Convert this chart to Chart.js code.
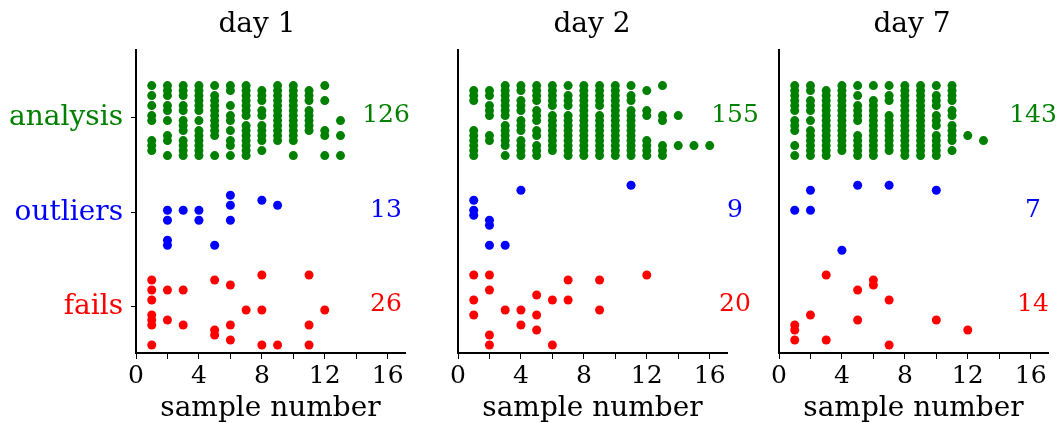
<!DOCTYPE html>
<html>
<head>
<meta charset="utf-8">
<script src="https://cdn.jsdelivr.net/npm/chart.js@4.4.1/dist/chart.umd.min.js"></script>
<style>
    body { margin: 0; background: #fff; }
    #wrap { position: relative; width: 1062px; height: 423px; }
    .panel { position: absolute; top: 0; }
</style>
</head>
<body>
<div id="wrap">
    <canvas id="day1" class="panel" width="420" height="423" style="left:0px"></canvas>
    <canvas id="day2" class="panel" width="340" height="423" style="left:420px"></canvas>
    <canvas id="day7" class="panel" width="302" height="423" style="left:760px"></canvas>
</div>
<script>
// bottom to top on the y axis
const categoryNames = ['fails', 'outliers', 'analysis'];
const categoryColors = ['#ff0000', '#0000ff', '#008000'];
const dayTitles = ['day 1', 'day 2', 'day 7'];

const xTickValues = [0, 2, 4, 6, 8, 10, 12, 14, 16];
const xLabelValues = [0, 4, 8, 12, 16];

// counts printed on the right: fails, outliers, analysis
const day1Counts = [26, 13, 126];
const day2Counts = [20, 9, 155];
const day7Counts = [14, 7, 143];

// each entry: [sample number, rows taken in the band (0 = top row, 14 = bottom row)]
const day1Analysis = [
    [1, [0, 2, 4, 6, 7, 11, 12, 13]],
    [2, [0, 1, 2, 4, 5, 7, 10, 11, 14]],
    [3, [0, 1, 2, 4, 5, 7, 8, 9, 11, 12, 13, 14]],
    [4, [0, 1, 2, 3, 4, 5, 7, 9, 10, 11, 12, 13, 14]],
    [5, [0, 2, 3, 4, 5, 6, 7, 8, 9, 10, 14]],
    [6, [0, 1, 4, 6, 7, 9, 11, 12, 14]],
    [7, [0, 1, 2, 3, 4, 5, 6, 8, 9, 10, 11, 12, 13, 14]],
    [8, [1, 2, 3, 5, 6, 8, 9, 10, 11, 13]],
    [9, [0, 1, 2, 3, 4, 5, 6, 7, 8, 9, 10, 11]],
    [10, [0, 1, 2, 3, 4, 5, 6, 7, 8, 9, 10, 11, 14]],
    [11, [1, 2, 3, 5, 6, 7, 8, 9]],
    [12, [0, 3, 9, 10, 14]],
    [13, [7, 10, 14]]
];
const day1Outliers = [
    [2, [6, 8, 12, 13]],
    [3, [6]],
    [4, [6, 8]],
    [5, [13]],
    [6, [3, 5, 8]],
    [8, [4]],
    [9, [5]]
];
const day1Fails = [
    [1, [1, 3, 5, 8, 9, 10, 14]],
    [2, [3, 9]],
    [3, [3, 10]],
    [5, [1, 11, 12]],
    [6, [2, 10, 13]],
    [7, [7]],
    [8, [0, 7, 14]],
    [9, [14]],
    [11, [0, 10, 14]],
    [12, [7]]
];

const day2Analysis = [
    [1, [1, 2, 3, 9, 10, 11, 12, 13, 14]],
    [2, [1, 2, 4, 5, 6, 10, 11]],
    [3, [0, 1, 2, 3, 4, 5, 6, 8, 9, 10, 11, 12, 14]],
    [4, [0, 1, 3, 4, 5, 7, 8, 9, 11, 12, 13, 14]],
    [5, [0, 1, 2, 3, 5, 6, 7, 9, 10, 12, 13, 14]],
    [6, [0, 1, 2, 3, 4, 6, 7, 8, 9, 10, 11, 12, 13]],
    [7, [0, 2, 3, 4, 6, 7, 8, 9, 10, 11, 12, 13, 14]],
    [8, [0, 1, 2, 3, 4, 5, 6, 7, 8, 9, 10, 11, 12, 13, 14]],
    [9, [0, 1, 2, 3, 4, 6, 7, 8, 9, 10, 11, 12, 13, 14]],
    [10, [0, 1, 2, 3, 4, 5, 6, 7, 8, 9, 10, 11, 12, 13, 14]],
    [11, [0, 2, 3, 5, 6, 7, 8, 9, 10, 11, 12, 13, 14]],
    [12, [1, 5, 6, 11, 12, 13, 14]],
    [13, [0, 6, 7, 12, 13, 14]],
    [14, [6, 12]],
    [15, [12]],
    [16, [12]]
];
const day2Outliers = [
    [1, [4, 6, 7]],
    [2, [8, 9, 13]],
    [3, [13]],
    [4, [2]],
    [11, [1]]
];
const day2Fails = [
    [1, [0, 5, 8]],
    [2, [0, 3, 12, 14]],
    [3, [7]],
    [4, [7, 10]],
    [5, [4, 8, 11]],
    [6, [5, 14]],
    [7, [1, 5]],
    [9, [1, 7]],
    [12, [0]]
];

const day7Analysis = [
    [1, [0, 1, 2, 3, 4, 5, 7, 8, 9, 12, 14]],
    [2, [0, 1, 3, 4, 5, 7, 9, 10, 11, 12, 13, 14]],
    [3, [1, 2, 3, 4, 5, 6, 7, 8, 9, 10, 11, 12, 13, 14]],
    [4, [0, 1, 2, 3, 4, 5, 6, 7, 8, 9, 10, 11, 12, 13]],
    [5, [0, 2, 4, 5, 6, 7, 10, 11, 12, 13, 14]],
    [6, [0, 3, 4, 5, 6, 7, 8, 9, 10, 11, 12, 13, 14]],
    [7, [0, 2, 3, 6, 7, 8, 9, 10, 11, 12, 13]],
    [8, [0, 1, 2, 3, 4, 5, 6, 7, 8, 9, 10, 11, 12, 13, 14]],
    [9, [0, 1, 2, 3, 4, 5, 6, 7, 8, 9, 10, 11, 12, 13, 14]],
    [10, [0, 2, 3, 4, 6, 7, 8, 10, 11, 12, 13, 14]],
    [11, [0, 1, 2, 3, 5, 6, 8, 9, 10, 11, 13]],
    [12, [10]],
    [13, [11]]
];
const day7Outliers = [
    [1, [6]],
    [2, [2, 6]],
    [4, [14]],
    [5, [1]],
    [7, [1]],
    [10, [2]]
];
const day7Fails = [
    [1, [10, 11, 13]],
    [2, [8]],
    [3, [0, 13]],
    [5, [3, 9]],
    [6, [1, 2]],
    [7, [5, 14]],
    [10, [9]],
    [12, [11]]
];

// a band is 15 rows, row 0 sits a bit above the category line
const ROW_TOP = 0.338;
const ROW_STEP = 0.0528;

function toPoints(columns, cat) {
    const pts = [];
    columns.forEach(([x, rows]) => {
        rows.forEach(r => pts.push({ x: x, y: cat + ROW_TOP - r * ROW_STEP }));
    });
    return pts;
}

const serif = "'DejaVu Serif', serif";

const panelText = {
    id: 'panelText',
    afterDraw(chart, args, opts) {
        const ctx = chart.ctx;
        const y = chart.scales.y;
        ctx.save();
        ctx.textAlign = 'center';
        ctx.textBaseline = 'middle';
        ctx.fillStyle = '#000';
        ctx.font = '28px ' + serif;
        ctx.fillText(opts.title, opts.titleX, 25);
        ctx.font = '25px ' + serif;
        opts.counts.forEach((c, i) => {
            ctx.fillStyle = categoryColors[i];
            ctx.fillText(String(c), opts.countX, y.getPixelForValue(i) - 2);
        });
        ctx.restore();
    }
};

function makePanel(id, p) {
    const datasets = [
        { label: 'analysis', data: toPoints(p.analysis, 2), color: categoryColors[2] },
        { label: 'outliers', data: toPoints(p.outliers, 1), color: categoryColors[1] },
        { label: 'fails', data: toPoints(p.fails, 0), color: categoryColors[0] }
    ].map(d => ({
        label: d.label,
        data: d.data,
        backgroundColor: d.color,
        borderWidth: 0,
        pointRadius: 4.5,
        pointHoverRadius: 4.5
    }));

    return new Chart(document.getElementById(id), {
        type: 'scatter',
        data: { datasets: datasets },
        options: {
            responsive: false,
            animation: false,
            devicePixelRatio: 1,
            layout: { padding: { top: 50, right: p.padRight, bottom: 0, left: 0 } },
            plugins: {
                legend: { display: false },
                tooltip: { enabled: false },
                panelText: { title: p.title, titleX: p.titleX, countX: p.countX, counts: p.counts }
            },
            scales: {
                x: {
                    type: 'linear',
                    min: 0,
                    max: 17.1,
                    afterBuildTicks: s => { s.ticks = xTickValues.map(v => ({ value: v })); },
                    afterFit: s => { s.height = 70; },
                    grid: { display: true, drawOnChartArea: false, tickLength: 6, color: '#000', lineWidth: 1 },
                    border: { display: true, color: '#000', width: 2 },
                    ticks: {
                        autoSkip: false,
                        maxRotation: 0,
                        padding: 2,
                        color: '#000',
                        font: { family: serif, size: 25 },
                        callback: v => xLabelValues.includes(v) ? String(v) : ''
                    },
                    title: {
                        display: true,
                        text: 'sample number',
                        color: '#000',
                        padding: 0,
                        font: { family: serif, size: 28, lineHeight: 1 }
                    }
                },
                y: {
                    type: 'linear',
                    min: -0.486,
                    max: 2.714,
                    afterBuildTicks: s => { s.ticks = [0, 1, 2].map(v => ({ value: v })); },
                    afterFit: s => { s.width = p.yWidth; },
                    grid: { display: p.showLabels, drawOnChartArea: false, tickLength: 5, color: '#000', lineWidth: 1 },
                    border: { display: true, color: '#000', width: 2 },
                    ticks: {
                        display: p.showLabels,
                        padding: 8,
                        color: ctx => categoryColors[ctx.index],
                        font: { family: serif, size: 28 },
                        callback: v => categoryNames[v]
                    }
                }
            }
        },
        plugins: [panelText]
    });
}

makePanel('day1', {
    title: dayTitles[0], titleX: 257, countX: 386, counts: day1Counts,
    yWidth: 136, padRight: 15, showLabels: true,
    analysis: day1Analysis, outliers: day1Outliers, fails: day1Fails
});
makePanel('day2', {
    title: dayTitles[1], titleX: 172, countX: 315, counts: day2Counts,
    yWidth: 38, padRight: 33, showLabels: false,
    analysis: day2Analysis, outliers: day2Outliers, fails: day2Fails
});
makePanel('day7', {
    title: dayTitles[2], titleX: 152, countX: 273, counts: day7Counts,
    yWidth: 19, padRight: 14, showLabels: false,
    analysis: day7Analysis, outliers: day7Outliers, fails: day7Fails
});
</script>
</body>
</html>
